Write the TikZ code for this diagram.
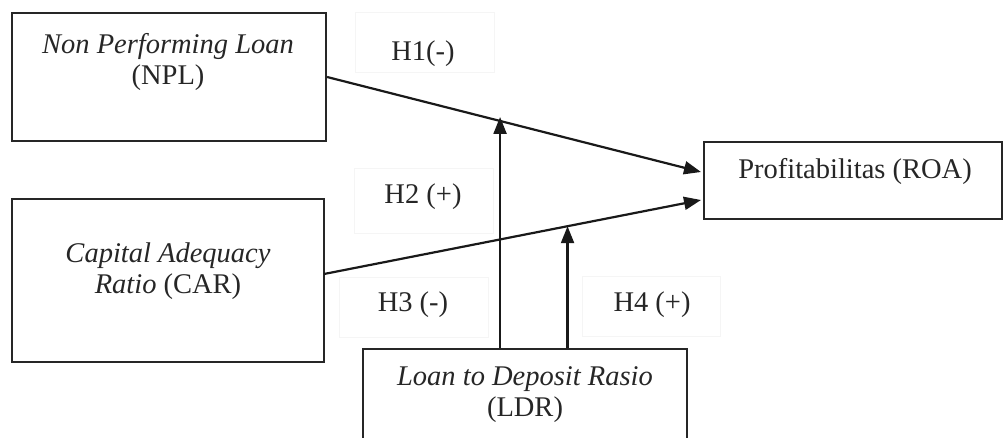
\documentclass[tikz,border=0pt]{standalone}
\usepackage{fontspec}
\setmainfont{Liberation Serif}
\usetikzlibrary{arrows.meta,calc}
\begin{document}
\begin{tikzpicture}[x=1pt,y=-1pt,
  box/.style={draw=black!85,line width=2.2pt,inner sep=0pt},
  txt/.style={align=center,inner sep=0pt,font=\fontsize{28.5}{31}\selectfont,text=black!85},
  lbox/.style={draw=black!4,line width=1pt},
  conn/.style={line width=2.2pt,draw=black!90,-{Triangle[length=17pt,width=13pt]}}]
\useasboundingbox (0,0) rectangle (1004,437);
% main boxes
\node[box,minimum width=314pt,minimum height=128pt] (npl) at (169,77) {};
\node[txt] (npltxt) at (168,62) {\textit{Non Performing Loan}\\(NPL)};
\node[box,minimum width=312pt,minimum height=163pt] (car) at (168,280.5) {};
\node[txt] (cartxt) at (168,271) {\textit{Capital Adequacy}\\\textit{Ratio} (CAR)};
\node[box,minimum width=298pt,minimum height=77pt] (roa) at (853,180.5) {};
\node[txt] (roatxt) at (855,171) {Profitabilitas (ROA)};
\node[box,minimum width=324pt,minimum height=94pt] (ldr) at (525,396) {};
\node[txt] (ldrtxt) at (525,395) {\textit{Loan to Deposit Rasio}\\(LDR)};
% faint label boxes
\draw[lbox] (355,12) rectangle (494,72);
\draw[lbox] (354,168) rectangle (493,233);
\draw[lbox] (339,277) rectangle (488,337);
\draw[lbox] (582,276) rectangle (720,336);
\node[txt] (h1) at (423,54) {H1(-)};
\node[txt] (h2) at (423,197) {H2 (+)};
\node[txt] (h3) at (413,305) {H3 (-)};
\node[txt] (h4) at (652,305) {H4 (+)};
% connectors
\coordinate (r1) at (701,172);
\coordinate (r2) at (701,200);
\coordinate (c0) at (324,274);
\draw[conn] (npl.east) -- (r1);
\draw[conn] (c0) -- (r2);
\coordinate (m1) at ($(npl.east)!0.4626!(r1)$);
\coordinate (m2) at ($(c0)!0.646!(r2)$);
\draw[conn] (ldr.north -| m1) -- ([yshift=4pt]m1);
\draw[conn] (ldr.north -| m2) -- (m2);
\end{tikzpicture}
\end{document}
